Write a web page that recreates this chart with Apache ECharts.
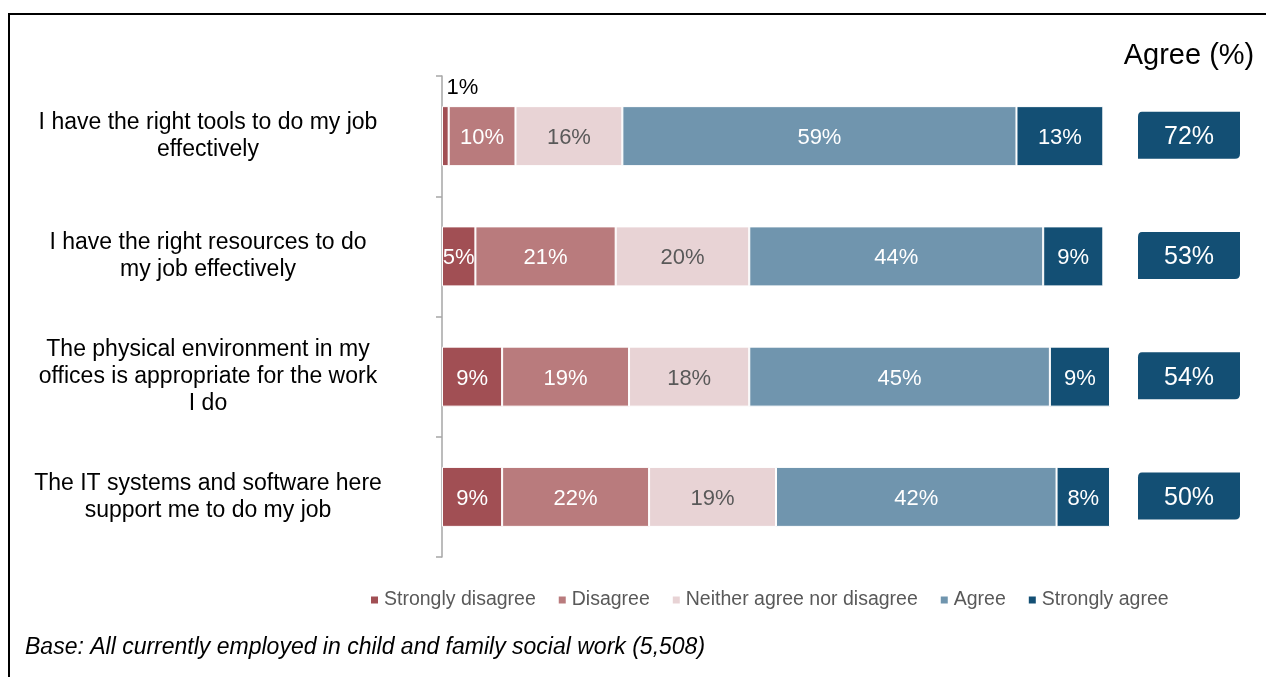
<!DOCTYPE html>
<html>
<head>
<meta charset="utf-8">
<script src="https://cdn.jsdelivr.net/npm/echarts@6/dist/echarts.min.js"></script>
<style>
html,body{margin:0;padding:0;background:#fff;}
#chart{width:1266px;height:677px;}
</style>
</head>
<body>
<div id="chart"></div>
<script>
const categories = [
  'I have the right tools to do my job\neffectively',
  'I have the right resources to do\nmy job effectively',
  'The physical environment in my\noffices is appropriate for the work\nI do',
  'The IT systems and software here\nsupport me to do my job'
];
const seriesNames = ['Strongly disagree', 'Disagree', 'Neither agree nor disagree', 'Agree', 'Strongly agree'];
const stronglyDisagree = [1, 5, 9, 9];
const disagree = [10, 21, 19, 22];
const neither = [16, 20, 18, 19];
const agree = [59, 44, 45, 42];
const stronglyAgree = [13, 9, 9, 8];
const agreeTotal = [72, 53, 54, 50];
const agreeHeader = 'Agree (%)';
const footnote = 'Base: All currently employed in child and family social work (5,508)';

const colors = ['#A14F54', '#B97B7D', '#E8D3D5', '#7095AE', '#134F74'];
const labelColors = ['#ffffff', '#ffffff', '#595959', '#ffffff', '#ffffff'];
const values = [stronglyDisagree, disagree, neither, agree, stronglyAgree];
const FONT = '"Liberation Sans", Arial, sans-serif';

const barSeries = values.map((arr, si) => ({
  name: seriesNames[si],
  type: 'bar',
  stack: 'total',
  xAxisIndex: 0,
  yAxisIndex: 0,
  barWidth: 60,
  itemStyle: { color: colors[si], borderColor: '#ffffff', borderWidth: 1 },
  label: {
    show: true,
    position: 'inside',
    color: labelColors[si],
    fontFamily: FONT,
    fontSize: 22,
    offset: [0, 2],
    formatter: p => p.value + '%'
  },
  data: arr.map(v => v < 3 ? {
    value: v,
    label: { position: 'top', color: '#000000', offset: [17, -2], fontSize: 22 }
  } : v)
}));

const boxPath = 'path://M4,0 L102,0 L102,42 Q102,47 97,47 L0,47 L0,5 Q0,0 4,0 Z';

const option = {
  animation: false,
  backgroundColor: '#ffffff',
  textStyle: { fontFamily: FONT },
  title: {
    text: footnote,
    left: 25,
    top: 636,
    padding: 0,
    textStyle: { fontFamily: FONT, fontSize: 23, fontStyle: 'italic', fontWeight: 'normal', color: '#000000' }
  },
  legend: {
    data: seriesNames,
    left: 369,
    top: 590,
    padding: 0,
    itemWidth: 9,
    itemHeight: 9,
    itemGap: 21,
    icon: 'rect',
    textStyle: { fontFamily: FONT, fontSize: 19.5, color: '#595959' }
  },
  graphic: [{
    type: 'polyline',
    shape: { points: [[9, 677], [9, 14], [1266, 14]] },
    style: { stroke: '#000000', lineWidth: 2, fill: null },
    silent: true
  }],
  grid: [
    { left: 442, top: 76, width: 668, height: 481 },
    { left: 1138, top: 76, width: 102, height: 481 }
  ],
  xAxis: [
    { type: 'value', gridIndex: 0, min: 0, max: 100, show: false },
    {
      type: 'category', gridIndex: 1, position: 'top', data: [agreeHeader],
      axisLine: { show: false }, axisTick: { show: false }, splitLine: { show: false },
      axisLabel: { fontFamily: FONT, fontSize: 29, color: '#000000', margin: 6 }
    }
  ],
  yAxis: [
    {
      type: 'category', gridIndex: 0, inverse: true, data: categories,
      axisLine: { show: true, lineStyle: { color: '#A6A6A6', width: 1.5 } },
      axisTick: { show: true, length: 6, lineStyle: { color: '#A6A6A6', width: 1.5 } },
      axisLabel: { fontFamily: FONT, fontSize: 23, color: '#000000', align: 'center', margin: 234, lineHeight: 27 }
    },
    { type: 'category', gridIndex: 1, inverse: true, data: categories, show: false }
  ],
  series: barSeries.concat([{
    name: agreeHeader,
    type: 'scatter',
    xAxisIndex: 1,
    yAxisIndex: 1,
    symbol: boxPath,
    symbolKeepAspect: false,
    symbolSize: [102, 47],
    symbolOffset: [0, -1],
    itemStyle: { color: colors[4], opacity: 1 },
    label: {
      show: true, position: 'inside', color: '#ffffff', fontFamily: FONT, fontSize: 25,
      formatter: p => p.value[2] + '%', offset: [0, 2]
    },
    data: agreeTotal.map((v, i) => [agreeHeader, categories[i], v])
  }])
};

const chart = echarts.init(document.getElementById('chart'), null, { renderer: 'canvas' });
chart.setOption(option);
</script>
</body>
</html>
